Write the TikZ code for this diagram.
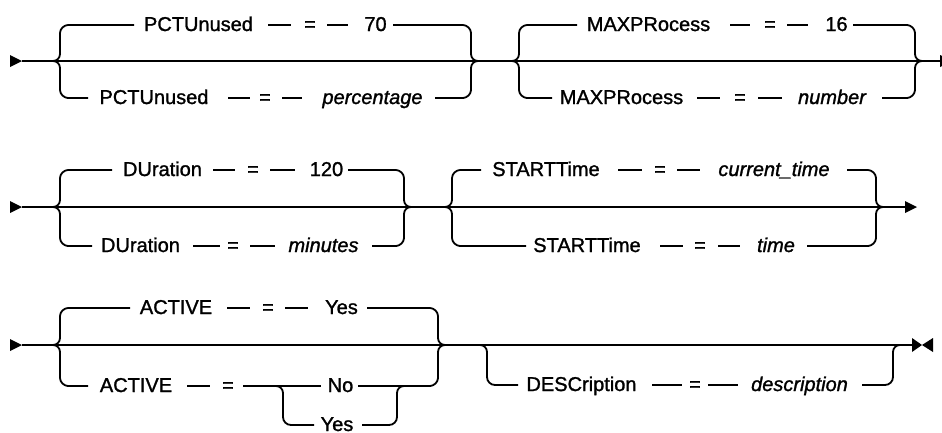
\documentclass[tikz,border=0pt]{standalone}
\usepackage{fontspec}
\setmainfont{Liberation Sans}[FakeBold=1.3]
% left brace: #1 junction x, #2 main y, #3 top y, #4 bottom y, #5 top end x, #6 bottom end x
\newcommand\railL[6]{%
  \draw[rr] (#1,#2) .. controls ({#1+3.9},#2) and ({#1+7},{#2-3.1}) .. ({#1+7},{#2-7})
    -- ({#1+7},{#3+8}) .. controls ({#1+7},{#3+3.6}) and ({#1+11.4},#3) .. ({#1+15},#3) -- (#5,#3);
  \draw[rr] (#1,#2) .. controls ({#1+3.9},#2) and ({#1+7},{#2+3.1}) .. ({#1+7},{#2+7})
    -- ({#1+7},{#4-8}) .. controls ({#1+7},{#4-3.6}) and ({#1+11.4},#4) .. ({#1+15},#4) -- (#6,#4);}
% right brace: #1 junction x, #2 main y, #3 top y, #4 bottom y, #5 top start x, #6 bottom start x
\newcommand\railR[6]{%
  \draw[rr] (#5,#3) -- ({#1-15},#3) .. controls ({#1-11.4},#3) and ({#1-7},{#3+3.6}) .. ({#1-7},{#3+8})
    -- ({#1-7},{#2-7}) .. controls ({#1-7},{#2-3.1}) and ({#1-3.9},#2) .. (#1,#2);
  \draw[rr] (#6,#4) -- ({#1-15},#4) .. controls ({#1-11.4},#4) and ({#1-7},{#4-3.6}) .. ({#1-7},{#4-8})
    -- ({#1-7},{#2+7}) .. controls ({#1-7},{#2+3.1}) and ({#1-3.9},#2) .. (#1,#2);}
\begin{document}
\begin{tikzpicture}[x=1pt,y=-1pt,
  rr/.style={line width=1.8pt},
  kw/.style={font=\fontsize{20}{24}\selectfont, inner sep=0pt, text height=14pt, text depth=2pt},
  var/.style={kw, font=\fontsize{20}{24}\selectfont\itshape}]
\useasboundingbox (0,0) rectangle (942,432);
\clip (0,0) rectangle (942,432);

% ================= Row 1 =================
\coordinate (s1) at (22,61);
\coordinate (e1) at (940,61);
\fill (10,55) -- (s1) -- (10,67) -- cycle;
\draw[rr] (s1) -- (e1);
\fill (940,55) -- (952,61) -- (940,67) -- cycle;

% group PCTUnused
\node[kw] (pctA) at (198.5,25) {PCTUnused};
\node[kw] (eqA) at (310,25) {=};
\node[kw] (v70) at (375.5,25) {70};
\draw[rr] (268,25) -- (291,25);
\draw[rr] (327,25) -- (348,25);
\node[kw] (pctB) at (154,98) {PCTUnused};
\node[kw] (eqB) at (265,98) {=};
\node[var] (vpct) at (372.5,98) {percentage};
\draw[rr] (228,98) -- (250,98);
\draw[rr] (282,98) -- (302,98);
\railL{53}{61}{25}{98}{134}{88}
\railR{478}{61}{25}{98}{393}{435}

% group MAXPRocess
\node[kw] (maxA) at (648.5,25) {MAXPRocess};
\node[kw] (eqC) at (770,25) {=};
\node[kw] (v16) at (836.5,25) {16};
\draw[rr] (730,25) -- (750,25);
\draw[rr] (787,25) -- (808,25);
\node[kw] (maxB) at (621.5,98) {MAXPRocess};
\node[kw] (eqD) at (740,98) {=};
\node[var] (vnum) at (832,98) {number};
\draw[rr] (697,98) -- (720,98);
\draw[rr] (758,98) -- (782,98);
\railL{512}{61}{25}{98}{577}{552}
\railR{922}{61}{25}{98}{853}{882}

% ================= Row 2 =================
\coordinate (s2) at (22,207);
\coordinate (e2) at (905,207);
\fill (10,201) -- (s2) -- (10,213) -- cycle;
\draw[rr] (s2) -- (e2);
\fill (905,213) -- (917,207) -- (905,201) -- cycle;

% group DUration
\node[kw] (durA) at (162.5,170) {DUration};
\node[kw] (eqE) at (253,170) {=};
\node[kw] (v120) at (326.5,170) {120};
\draw[rr] (213,170) -- (235,170);
\draw[rr] (270,170) -- (295,170);
\node[kw] (durB) at (140.5,246) {DUration};
\node[kw] (eqF) at (233,246) {=};
\node[var] (vmin) at (323.5,246) {minutes};
\draw[rr] (193,246) -- (220,246);
\draw[rr] (250,246) -- (275,246);
\railL{53}{207}{170}{246}{112}{92}
\railR{411}{207}{170}{246}{348}{372}

% group STARTTime
\node[kw] (stA) at (546,170) {STARTTime};
\node[kw] (eqG) at (660,170) {=};
\node[var] (vcur) at (774,170) {current\_time};
\draw[rr] (618,170) -- (642,170);
\draw[rr] (677,170) -- (700,170);
\node[kw] (stB) at (587,246) {STARTTime};
\node[kw] (eqH) at (700,246) {=};
\node[var] (vtime) at (776,246) {time};
\draw[rr] (660,246) -- (683,246);
\draw[rr] (718,246) -- (740,246);
\railL{445}{207}{170}{246}{481}{526}
\railR{883}{207}{170}{246}{847}{807}

% ================= Row 3 =================
\coordinate (s3) at (22,345);
\coordinate (e3) at (912,345);
\fill (10,339) -- (s3) -- (10,351) -- cycle;
\draw[rr] (s3) -- (e3);
\fill (912,338) -- (922,345) -- (912,352) -- cycle;
\fill (933,338) -- (922,345) -- (933,352) -- cycle;

% group ACTIVE
\node[kw] (actA) at (176,308) {ACTIVE};
\node[kw] (eqI) at (268,308) {=};
\node[kw] (vyesA) at (341.5,308) {Yes};
\draw[rr] (227,308) -- (250,308);
\draw[rr] (285,308) -- (308,308);
\node[kw] (actB) at (136,386) {ACTIVE};
\node[kw] (eqJ) at (228,386) {=};
\node[kw] (vno) at (340.5,386) {No};
\node[kw] (vyesB) at (337,425) {Yes};
\draw[rr] (187,386) -- (210,386);
\draw[rr] (243,386) -- (321,386);
\railL{53}{345}{308}{386}{130}{88}
\railR{445}{345}{308}{386}{367}{358}
% inner No / Yes choice
\draw[rr] (276,386) .. controls (279.9,386) and (283,389.1) .. (283,393)
  -- (283,417) .. controls (283,421.4) and (286.6,425) .. (291,425) -- (314,425);
\draw[rr] (362,425) -- (389,425) .. controls (393.4,425) and (397,421.4) .. (397,417)
  -- (397,393) .. controls (397,389.1) and (400.1,386) .. (404,386);

% optional DESCription
\node[kw] (descA) at (581.5,385) {DESCription};
\node[kw] (eqK) at (695,385) {=};
\node[var] (vdesc) at (799.5,385) {description};
\draw[rr] (652,385) -- (682,385);
\draw[rr] (708,385) -- (738,385);
\draw[rr] (480,345) .. controls (483.9,345) and (487,348.1) .. (487,352)
  -- (487,377) .. controls (487,381.4) and (490.6,385) .. (495,385) -- (518,385);
\draw[rr] (862,385) -- (885,385) .. controls (889.4,385) and (893,381.4) .. (893,377)
  -- (893,352) .. controls (893,348.1) and (896.1,345) .. (900,345);
\end{tikzpicture}
\end{document}
